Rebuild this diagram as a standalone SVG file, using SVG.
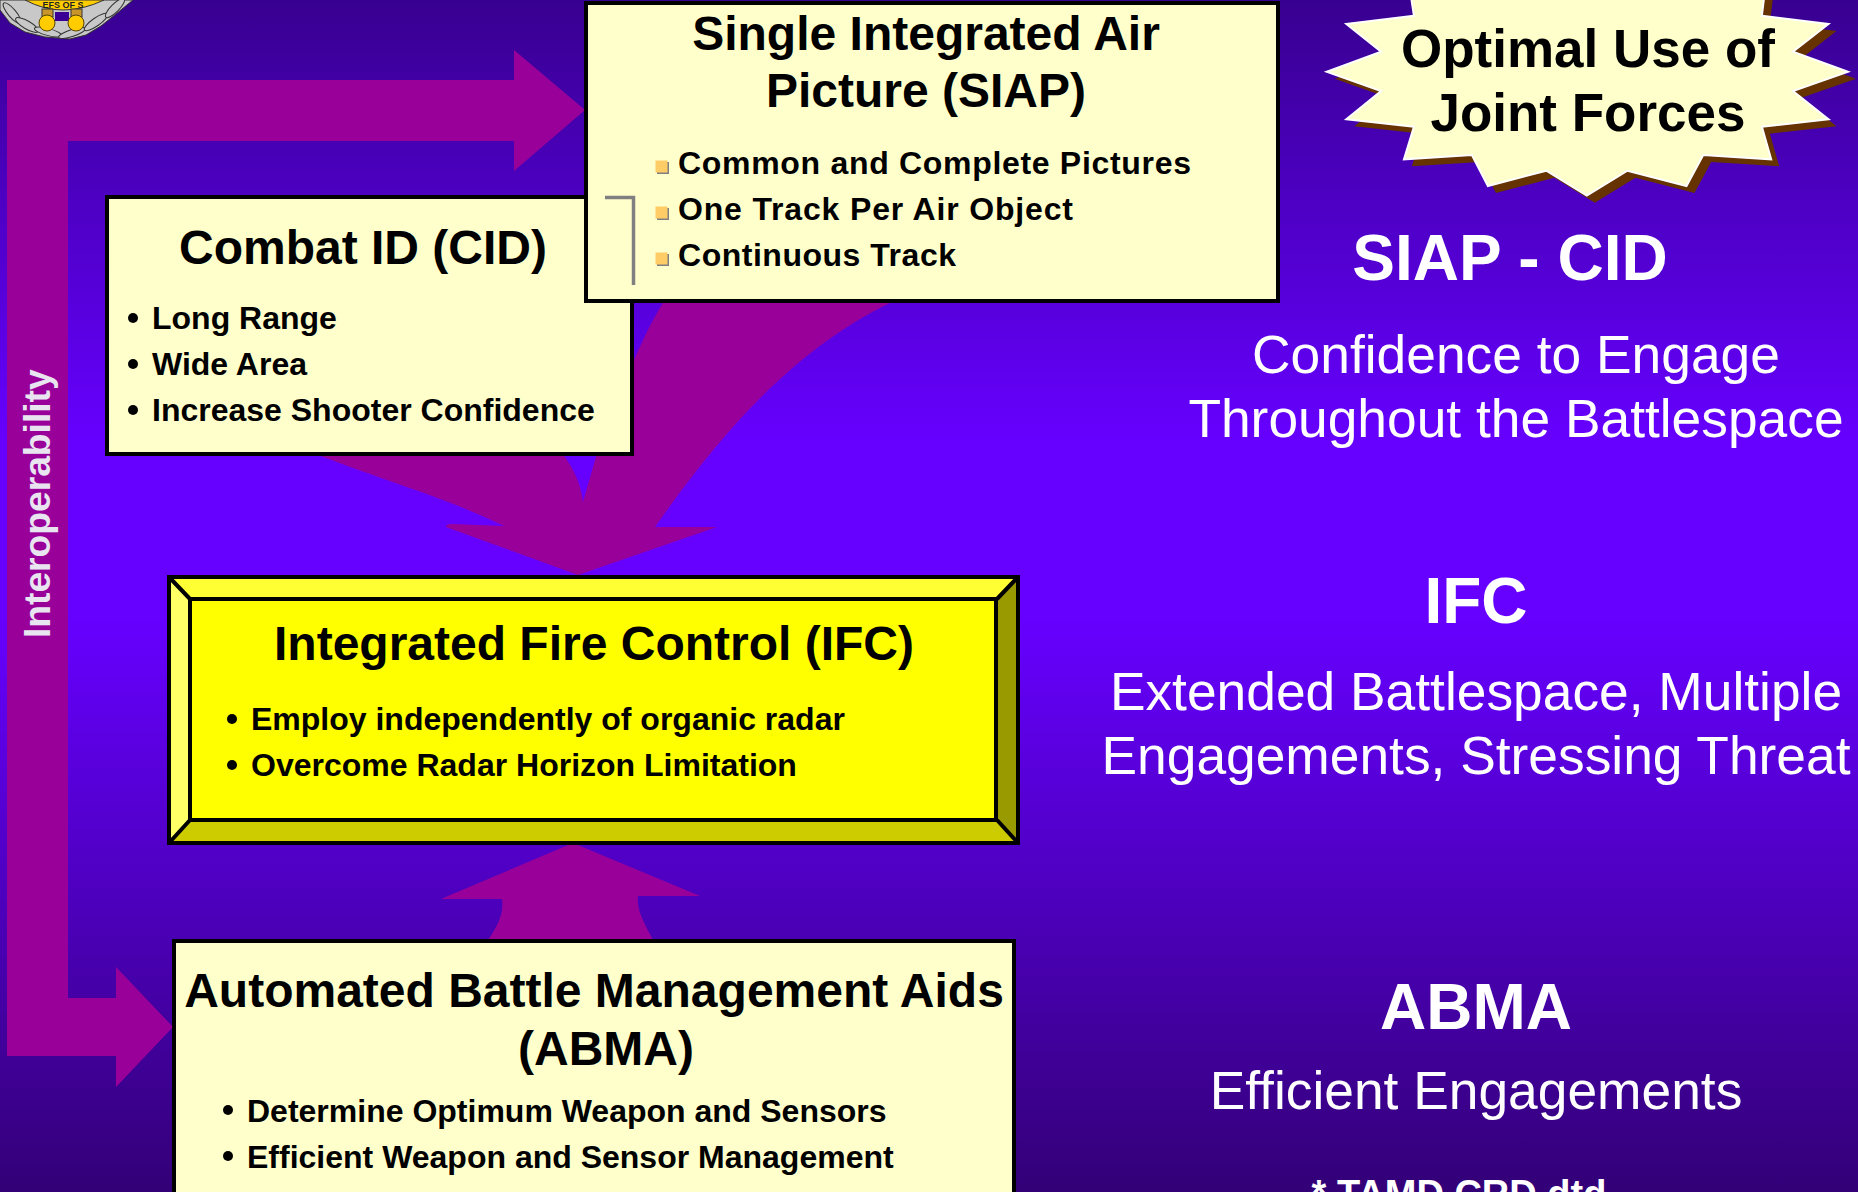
<svg xmlns="http://www.w3.org/2000/svg" width="1858" height="1192" viewBox="0 0 1858 1192">
<style>
text{font-family:"Liberation Sans",Arial,sans-serif}
.box{fill:#ffffcc;stroke:#000;stroke-width:4}
.t{font-weight:700;fill:#000;font-size:48px;text-anchor:middle}
.b{font-weight:700;fill:#000;font-size:32px}
.dot{fill:#000}
.arrow{fill:#990099}
.h{font-weight:700;fill:#fff;font-size:64px;text-anchor:middle}
.s{fill:#fff;font-size:53.330px;text-anchor:middle}
.edge{stroke:#000;stroke-width:4}
.leaf{fill:#c8c8c8;stroke:#333;stroke-width:1}
</style>
<defs>
<linearGradient id="bg" x1="0" y1="0" x2="0" y2="1">
<stop offset="0" stop-color="#380090"/>
<stop offset="0.37" stop-color="#6600ff"/>
<stop offset="0.52" stop-color="#6600ff"/>
<stop offset="1" stop-color="#330077"/>
</linearGradient>
</defs>
<rect width="1858" height="1192" fill="url(#bg)"/>
<g id="logo">
<path class="leaf" d="M0 10L10 23L25 32L45 37L70 39L86 35L101 26L116 14L133 0L0 0Z"/>
<ellipse class="leaf" cx="12" cy="13" rx="13" ry="4" transform="rotate(50 12 13)"/>
<ellipse class="leaf" cx="27" cy="25" rx="13" ry="4" transform="rotate(30 27 25)"/>
<ellipse class="leaf" cx="48" cy="32" rx="14" ry="3.500" transform="rotate(15 48 32)"/>
<ellipse class="leaf" cx="72" cy="33" rx="14" ry="3.500" transform="rotate(-18 72 33)"/>
<ellipse class="leaf" cx="96" cy="22" rx="14" ry="4" transform="rotate(-35 96 22)"/>
<ellipse class="leaf" cx="115" cy="8" rx="13" ry="4" transform="rotate(-45 115 8)"/>
<path d="M25 0Q62 20 104 0Z" fill="#ffcc00" stroke="#333" stroke-width="1"/>
<path d="M55 12L69 12L69 21L55 21Z" fill="#3a0096"/>
<rect x="42" y="9" width="11" height="8" fill="#c9962c" stroke="#333" stroke-width="1"/>
<rect x="71" y="9" width="11" height="8" fill="#c9962c" stroke="#333" stroke-width="1"/>
<circle cx="47" cy="23" r="8" fill="#ffcc00" stroke="#554400"/>
<circle cx="76" cy="23" r="8" fill="#ffcc00" stroke="#554400"/>
<text x="63" y="8" font-size="9" font-weight="700" text-anchor="middle" fill="#222">EFS OF S</text>
</g>
<g id="connectors">
<path class="arrow" d="M7 80H514V50L585 110L514 171V141H68V998H116V967L173 1027L116 1087V1056H7Z"/>
<path class="arrow" d="M573 843L700 896H638C636 910 645 925 656 945H485C498 925 504 915 502 899H441Z"/>
<path class="arrow" d="M578 575L446 527Q446 524 452 524L504 526C440 495 380 480 306 450H560C575 470 581 485 583 502L598 450L634 360C645 335 655 315 667 296H905C805 340 730 420 655 527H717Z"/>
</g>
<g id="cid">
<rect class="box" x="107" y="197" width="525" height="257"/>
<text class="t" x="363" y="264">Combat ID (CID)</text>
<circle class="dot" cx="133" cy="318" r="5"/><text class="b" x="152" y="329">Long Range</text>
<circle class="dot" cx="133" cy="364" r="5"/><text class="b" x="152" y="375">Wide Area</text>
<circle class="dot" cx="133" cy="410" r="5"/><text class="b" x="152" y="421">Increase Shooter Confidence</text>
</g>
<g id="siap">
<rect class="box" x="586" y="3" width="692" height="298"/>
<text class="t" x="926" y="50">Single Integrated Air</text>
<text class="t" x="926" y="107">Picture (SIAP)</text>
<rect x="657" y="162" width="12" height="12" fill="#808080"/><rect x="655.500" y="160.500" width="12" height="12" fill="#ffcc66"/>
<rect x="657" y="208" width="12" height="12" fill="#808080"/><rect x="655.500" y="206.500" width="12" height="12" fill="#ffcc66"/>
<rect x="657" y="254" width="12" height="12" fill="#808080"/><rect x="655.500" y="252.500" width="12" height="12" fill="#ffcc66"/>
<text class="b" x="678" y="174" textLength="513">Common and Complete Pictures</text>
<text class="b" x="678" y="220" textLength="395">One Track Per Air Object</text>
<text class="b" x="678" y="266" textLength="278">Continuous Track</text>
<path d="M605 197.500H633.500V285" fill="none" stroke="#808080" stroke-width="3.500"/>
</g>
<g id="ifc">
<rect x="169" y="577" width="849" height="266" fill="#ffff00"/>
<path d="M169 577H1018L997 599H190Z" fill="#ffff33"/>
<path d="M169 577L190 599V820L169 843Z" fill="#ffff66"/>
<path d="M1018 577L997 599V820L1018 843Z" fill="#999900"/>
<path d="M169 843L190 820H997L1018 843Z" fill="#cccc00"/>
<g class="edge" fill="none"><rect x="169" y="577" width="849" height="266"/><rect x="190" y="599" width="806" height="221"/><path d="M169 577L190 599M1018 577L997 599M169 843L190 820M1018 843L997 820"/></g>
<text class="t" x="594" y="660">Integrated Fire Control (IFC)</text>
<circle class="dot" cx="232" cy="719" r="5"/><text class="b" x="251" y="730">Employ independently of organic radar</text>
<circle class="dot" cx="232" cy="765" r="5"/><text class="b" x="251" y="776">Overcome Radar Horizon Limitation</text>
</g>
<g id="abma">
<rect class="box" x="174" y="941" width="840" height="300"/>
<text class="t" x="594" y="1007">Automated Battle Management Aids</text>
<text class="t" x="606" y="1065">(ABMA)</text>
<circle class="dot" cx="228" cy="1110" r="5"/><text class="b" x="247" y="1122">Determine Optimum Weapon and Sensors</text>
<circle class="dot" cx="228" cy="1156" r="5"/><text class="b" x="247" y="1168">Efficient Weapon and Sensor Management</text>
</g>
<g id="joint-forces">
<polygon transform="translate(8 7)" fill="#663300" points="1408.500,-20 1413.900,15.700 1346.300,24 1381.100,51.700 1326.700,71.700 1381.100,91 1346.300,119.300 1413.900,126.700 1403.900,159.300 1471.900,155 1487.900,186 1546.300,170.700 1586.800,195.700 1627.400,170.700 1686.500,186 1703.200,155 1771.200,159.300 1761.900,126.700 1828.500,119.300 1792.900,91 1848,71.700 1792.900,51.700 1828.500,24 1761.900,15.700 1766.200,-20"/>
<polygon fill="#ffffcc" stroke="#fff" stroke-width="2" points="1408.500,-20 1413.900,15.700 1346.300,24 1381.100,51.700 1326.700,71.700 1381.100,91 1346.300,119.300 1413.900,126.700 1403.900,159.300 1471.900,155 1487.900,186 1546.300,170.700 1586.800,195.700 1627.400,170.700 1686.500,186 1703.200,155 1771.200,159.300 1761.900,126.700 1828.500,119.300 1792.900,91 1848,71.700 1792.900,51.700 1828.500,24 1761.900,15.700 1766.200,-20"/>
<text class="t" x="1588" y="67" style="font-size:53px">Optimal Use of</text>
<text class="t" x="1588" y="131" style="font-size:53px">Joint Forces</text>
</g>
<g id="labels">
<text transform="translate(50 638) rotate(-90)" font-size="37.200" font-weight="700" fill="#e8e4f0">Interoperability</text>
<text class="h" x="1510" y="280">SIAP - CID</text>
<text class="s" x="1516" y="373">Confidence to Engage</text>
<text class="s" x="1516" y="437">Throughout the Battlespace</text>
<text class="h" x="1476" y="623">IFC</text>
<text class="s" x="1476" y="710">Extended Battlespace, Multiple</text>
<text class="s" x="1476" y="774">Engagements, Stressing Threat</text>
<text class="h" x="1476" y="1029">ABMA</text>
<text class="s" x="1476" y="1109">Efficient Engagements</text>
<text x="1459" y="1207" font-size="38" font-weight="700" fill="#fff" text-anchor="middle">* TAMD CRD dtd</text>
</g>
</svg>
